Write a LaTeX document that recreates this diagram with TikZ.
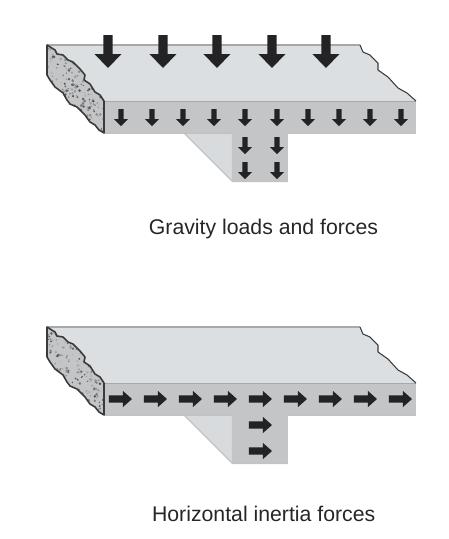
\documentclass[tikz,border=0pt]{standalone}
\usepackage{fontspec}
\setmainfont{Liberation Sans}
\usepackage{xcolor}
\usetikzlibrary{calc}

\definecolor{topgray}{HTML}{DCDFE1}
\definecolor{frontgray}{HTML}{C3C5C6}
\definecolor{hauncgray}{HTML}{D8DBDE}
\definecolor{edgegray}{HTML}{A6A8A9}
\definecolor{crackgray}{HTML}{3A3A3A}
\definecolor{concgray}{HTML}{C4C5C6}
\definecolor{arrowblack}{HTML}{232325}

\begin{document}
\begin{tikzpicture}[
  x=0.02cm, y=-0.02cm,
  topface/.style   = {fill=topgray},
  frontface/.style = {fill=frontgray},
  haunch/.style    = {fill=hauncgray},
  edgeline/.style  = {draw=edgegray, line width=0.7pt},
  crack/.style     = {draw=crackgray, line width=0.6pt, line join=round},
  brokenend/.style = {draw=crackgray, line width=0.9pt, line join=round},
  caption/.style   = {font=\fontsize{12.1pt}{15pt}\selectfont, text=black!85, inner sep=0pt, anchor=base},
  bigdown/.pic     = {\fill[arrowblack] (-4.7,-33) -- (4.7,-33) -- (4.7,-14) -- (13.5,-14)
                        -- (0,0) -- (-13.5,-14) -- (-4.7,-14) -- cycle;},
  smalldown/.pic   = {\fill[arrowblack] (-2.6,-17) -- (2.6,-17) -- (2.6,-7) -- (7,-7)
                        -- (0,0) -- (-7,-7) -- (-2.6,-7) -- cycle;},
  pushright/.pic   = {\fill[arrowblack] (-23,-3.7) -- (-9,-3.7) -- (-9,-8) -- (0,0)
                        -- (-9,8) -- (-9,3.7) -- (-23,3.7) -- cycle;},
]

\useasboundingbox (0,0) rectangle (449,539);

\pgfmathsetseed{4711}
\foreach \oy in {0,282}{
  \begin{scope}[shift={(0,\oy)}]
    % slab top, front and stem
    \path[topface] (47,45) -- (360,45) -- (363,52) -- (370,55) -- (378,63) -- (378,70) -- (388,77)
      -- (398,88) -- (407,93) -- (416,101) -- (104,101) -- cycle;
    \path[haunch] (184,133) -- (232,181) -- (232,133) -- cycle;
    \path[frontface] (104,101) -- (416,101) -- (416,133) -- (288,133) -- (288,182)
      -- (232,182) -- (232,133) -- (104,133) -- cycle;
    \draw[edgeline] (47,45) -- (360,45);
    \draw[edgeline] (104,101.5) -- (416,101.5);
    \draw[edgeline, draw=edgegray!70] (104,133) -- (232,133) (288,133) -- (416,133);
    \draw[edgeline, draw=edgegray!70] (184,133) -- (232,181) -- (288,181);
    % broken concrete end
    \begin{scope}
      \clip (47,45) -- (55,50) -- (57,54) -- (63,55) -- (68,60) -- (73,62) -- (80,69) -- (85,75)
        -- (84,80) -- (90,84) -- (95,92) -- (100,95) -- (104,101) -- (104,133) -- (99,130)
        -- (95,125) -- (90,122) -- (85,115) -- (77,107) -- (70,104) -- (67,100) -- (63,93)
        -- (55,87) -- (50,80) -- (47,75) -- cycle;
      \fill[concgray] (40,40) rectangle (110,140);
      \foreach \i in {1,...,320}{
        \pgfmathsetmacro{\dotx}{47+57*rnd}
        \pgfmathsetmacro{\doty}{45+88*rnd}
        \pgfmathsetmacro{\dotr}{0.5+1.1*rnd}
        \pgfmathsetmacro{\dotk}{25+45*rnd}
        \fill[black!\dotk] (\dotx,\doty) circle (\dotr);
      }
    \end{scope}
    \draw[brokenend] (47,45) -- (55,50) -- (57,54) -- (63,55) -- (68,60) -- (73,62) -- (80,69) -- (85,75)
      -- (84,80) -- (90,84) -- (95,92) -- (100,95) -- (104,101) -- (104,133) -- (99,130)
      -- (95,125) -- (90,122) -- (85,115) -- (77,107) -- (70,104) -- (67,100) -- (63,93)
      -- (55,87) -- (50,80) -- (47,75) -- cycle;
    \draw[crack] (360,45) -- (363,52) -- (370,55) -- (378,63) -- (378,70) -- (388,77)
      -- (398,88) -- (407,93) -- (416,101);
  \end{scope}
}

% gravity loads
\foreach \cx in {108,163,217,272,326}
  \pic at (\cx,68) {bigdown};
\foreach \cx in {121,152,183,214,245,277,308,339,370,401}
  \pic at (\cx,126) {smalldown};
\foreach \cx in {245,277}{
  \pic at (\cx,154) {smalldown};
  \pic at (\cx,179) {smalldown};
}

% inertia forces
\foreach \cx in {132,167,202,237,272,307,342,377,412}
  \pic at (\cx,399) {pushright};
\pic at (272,425) {pushright};
\pic at (272,451) {pushright};

\node[caption] (gravitylabel) at (263.5,234) {Gravity loads and forces};
\node[caption] (inertialabel) at (263.7,521.5) {Horizontal inertia forces};

\end{tikzpicture}
\end{document}
